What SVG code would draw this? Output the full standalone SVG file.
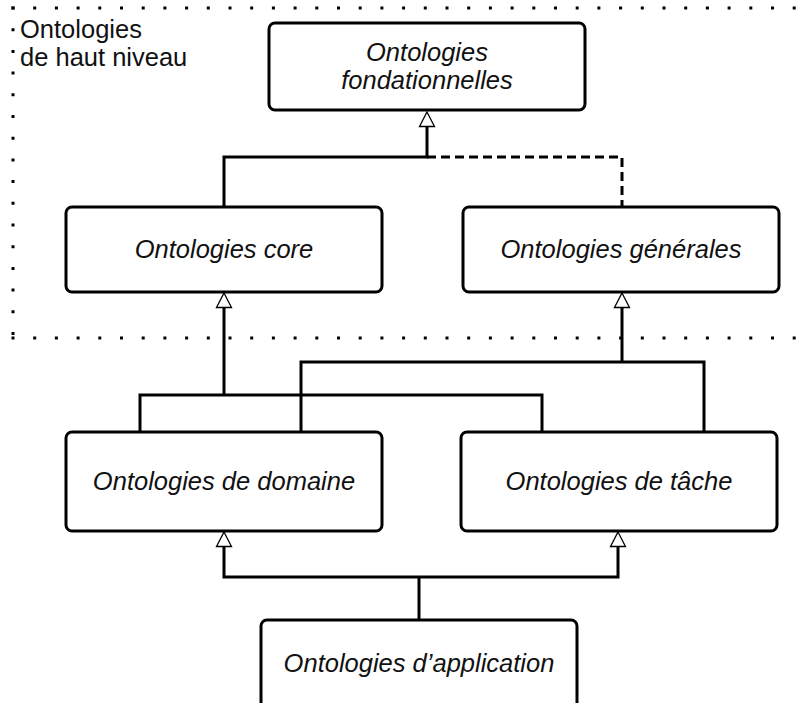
<svg xmlns="http://www.w3.org/2000/svg" width="796" height="703" viewBox="0 0 796 703">
<defs>
<style>
.box{fill:#fff;stroke:#000;stroke-width:3}
.lbl{font-family:"Liberation Sans",Arial,sans-serif;font-size:25.5px;font-style:italic;fill:#111;text-anchor:middle}
.plain{font-family:"Liberation Sans",Arial,sans-serif;font-size:25.5px;fill:#111}
.conn{fill:none;stroke:#000;stroke-width:3}
.dash{stroke-dasharray:9 5}
.dots{fill:none;stroke:#000;stroke-width:3;stroke-dasharray:3 18.7}
.arr{fill:#fff;stroke:#000;stroke-width:1.3}
</style>
</defs>
<g id="boundary">
<path class="dots" d="M11.5 8 H796"/>
<path class="dots" d="M13 6.5 V340"/>
<path class="dots" d="M11.5 338 H796"/>
<text class="plain" x="20" y="37.5">Ontologies</text>
<text class="plain" x="20" y="66">de haut niveau</text>
</g>
<g id="connectors">
<path class="conn" d="M224 207 V157 H427 V126"/>
<path class="conn dash" d="M427 157 H622 V207"/>
<path class="conn" d="M224 306 V395"/>
<path class="conn" d="M140 432 V395 H542 V432"/>
<path class="conn" d="M622 306 V362"/>
<path class="conn" d="M301 432 V362 H704 V432"/>
<path class="conn" d="M419 620 V577"/>
<path class="conn" d="M224 545 V577 H618 V545"/>
<path class="arr" d="M427 112 L434.5 126.5 H419.5 Z"/>
<path class="arr" d="M224 293 L231.5 307.5 H216.5 Z"/>
<path class="arr" d="M622 293 L629.5 307.5 H614.5 Z"/>
<path class="arr" d="M224 532 L231.5 546.5 H216.5 Z"/>
<path class="arr" d="M618 532 L625.5 546.5 H610.5 Z"/>
</g>
<g id="fondationnelles">
<rect class="box" x="269" y="23" width="316" height="87" rx="6"/>
<text class="lbl" x="427" y="61">Ontologies</text>
<text class="lbl" x="427" y="89">fondationnelles</text>
</g>
<g id="core">
<rect class="box" x="66" y="207" width="316" height="85" rx="6"/>
<text class="lbl" x="224" y="258">Ontologies core</text>
</g>
<g id="generales">
<rect class="box" x="463" y="207" width="316" height="85" rx="6"/>
<text class="lbl" x="621" y="258">Ontologies générales</text>
</g>
<g id="domaine">
<rect class="box" x="66" y="432" width="316" height="99" rx="6"/>
<text class="lbl" x="224" y="490">Ontologies de domaine</text>
</g>
<g id="tache">
<rect class="box" x="461" y="432" width="316" height="99" rx="6"/>
<text class="lbl" x="619" y="490">Ontologies de tâche</text>
</g>
<g id="application">
<rect class="box" x="261" y="620" width="316" height="100" rx="6"/>
<text class="lbl" x="419" y="672">Ontologies d’application</text>
</g>
</svg>
